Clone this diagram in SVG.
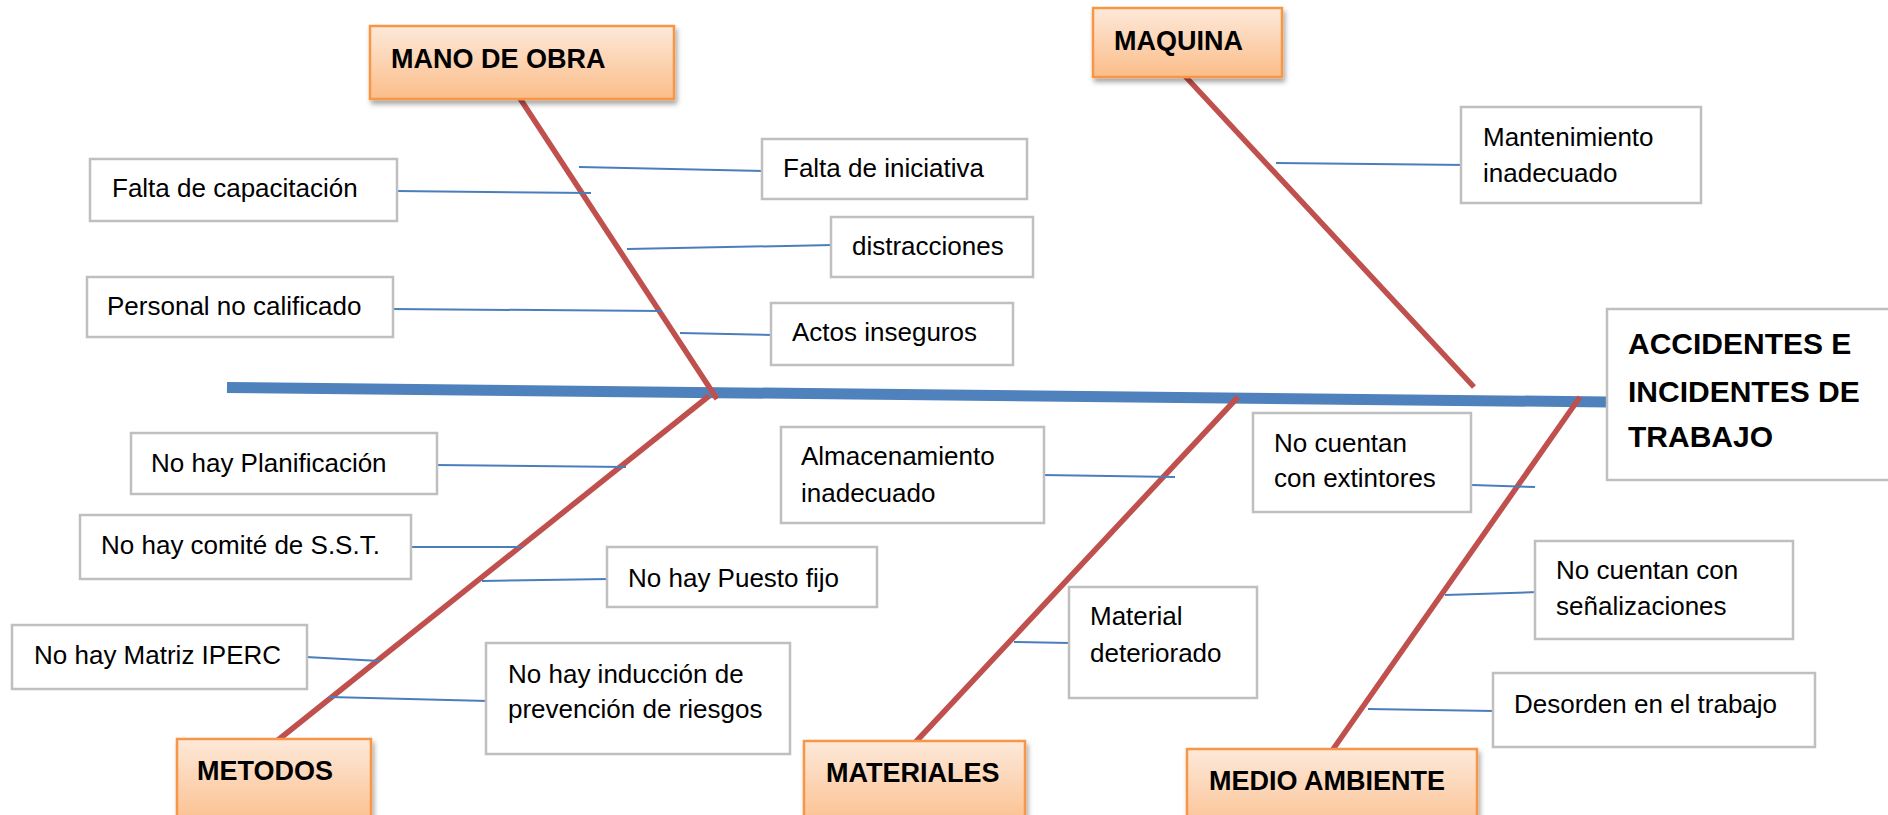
<svg xmlns="http://www.w3.org/2000/svg" width="1888" height="815" viewBox="0 0 1888 815">
<defs>
<linearGradient id="og" x1="0" y1="0" x2="0" y2="1">
<stop offset="0" stop-color="#FDE9DA"/>
<stop offset="1" stop-color="#FBBD89"/>
</linearGradient>
<filter id="sh" x="-10%" y="-10%" width="125%" height="140%">
<feDropShadow dx="2" dy="4" stdDeviation="2.5" flood-color="#000" flood-opacity="0.35"/>
</filter>
<style>
.cat{fill:url(#og);stroke:#F79646;stroke-width:2.5;filter:url(#sh)}
.box{fill:#fff;stroke:#BFBFBF;stroke-width:2.5}
.lbl{font-family:"Liberation Sans",Arial,sans-serif;font-weight:bold;font-size:27px;fill:#000}
.txt{font-family:"Liberation Sans",Arial,sans-serif;font-size:26px;fill:#000}
.eff{font-family:"Liberation Sans",Arial,sans-serif;font-weight:bold;font-size:30px;fill:#000}
.spine{stroke:#4F81BD;stroke-width:11;fill:none}
.bone{stroke:#C0504D;stroke-width:5.5;fill:none}
.sub{stroke:#4A7EBB;stroke-width:2;fill:none}
</style>
</defs>
<rect width="1888" height="815" fill="#fff"/>

<g id="connectors">
<line class="spine" x1="227" y1="387.5" x2="1608" y2="402"/>
<line class="bone" x1="519" y1="97" x2="717" y2="399"/>
<line class="bone" x1="709" y1="396" x2="273" y2="744"/>
<line class="bone" x1="1184" y1="75" x2="1474" y2="387"/>
<line class="bone" x1="1238" y1="397" x2="911" y2="747"/>
<line class="bone" x1="1580" y1="397" x2="1329" y2="755"/>
<line class="sub" x1="579" y1="167" x2="765" y2="171"/>
<line class="sub" x1="396" y1="191" x2="591" y2="193"/>
<line class="sub" x1="627" y1="249" x2="833" y2="245"/>
<line class="sub" x1="391" y1="309" x2="662" y2="311"/>
<line class="sub" x1="680" y1="333" x2="772" y2="335"/>
<line class="sub" x1="1276" y1="163" x2="1467" y2="165"/>
<line class="sub" x1="435" y1="465" x2="626" y2="467"/>
<line class="sub" x1="409" y1="547" x2="521" y2="547"/>
<line class="sub" x1="482" y1="581" x2="610" y2="579"/>
<line class="sub" x1="306" y1="657" x2="380" y2="661"/>
<line class="sub" x1="329" y1="697" x2="488" y2="701"/>
<line class="sub" x1="1043" y1="475" x2="1175" y2="477"/>
<line class="sub" x1="1014" y1="642" x2="1070" y2="643"/>
<line class="sub" x1="1472" y1="485" x2="1535" y2="487"/>
<line class="sub" x1="1445" y1="595" x2="1538" y2="592"/>
<line class="sub" x1="1368" y1="709" x2="1494" y2="711"/>
</g>

<g id="mano-de-obra"><rect class="cat" x="370" y="26" width="304" height="73"/><text class="lbl" x="391" y="68">MANO DE OBRA</text></g>
<g id="maquina"><rect class="cat" x="1093" y="8" width="189" height="69"/><text class="lbl" x="1114" y="50">MAQUINA</text></g>
<g id="metodos"><rect class="cat" x="177" y="739" width="194" height="90"/><text class="lbl" x="197" y="780">METODOS</text></g>
<g id="materiales"><rect class="cat" x="804" y="741" width="221" height="90"/><text class="lbl" x="826" y="782">MATERIALES</text></g>
<g id="medio-ambiente"><rect class="cat" x="1187" y="749" width="290" height="90"/><text class="lbl" x="1209" y="790">MEDIO AMBIENTE</text></g>

<g id="efecto"><rect class="box" x="1607" y="309" width="300" height="171"/>
<text class="eff" x="1628" y="354">ACCIDENTES E</text>
<text class="eff" x="1628" y="402">INCIDENTES DE</text>
<text class="eff" x="1628" y="447">TRABAJO</text></g>

<g id="falta-capacitacion"><rect class="box" x="90" y="159" width="307" height="62"/><text class="txt" x="112" y="197">Falta de capacitación</text></g>
<g id="falta-iniciativa"><rect class="box" x="762" y="139" width="265" height="60"/><text class="txt" x="783" y="177">Falta de iniciativa</text></g>
<g id="distracciones"><rect class="box" x="831" y="217" width="202" height="60"/><text class="txt" x="852" y="255">distracciones</text></g>
<g id="personal"><rect class="box" x="87" y="277" width="306" height="60"/><text class="txt" x="107" y="315">Personal no calificado</text></g>
<g id="actos"><rect class="box" x="771" y="303" width="242" height="62"/><text class="txt" x="792" y="341">Actos inseguros</text></g>
<g id="mantenimiento"><rect class="box" x="1461" y="107" width="240" height="96"/><text class="txt" x="1483" y="146">Mantenimiento</text><text class="txt" x="1483" y="182">inadecuado</text></g>
<g id="planificacion"><rect class="box" x="131" y="433" width="306" height="61"/><text class="txt" x="151" y="472">No hay Planificación</text></g>
<g id="comite"><rect class="box" x="80" y="515" width="331" height="64"/><text class="txt" x="101" y="554">No hay comité de S.S.T.</text></g>
<g id="puesto"><rect class="box" x="607" y="547" width="270" height="60"/><text class="txt" x="628" y="587">No hay Puesto fijo</text></g>
<g id="iperc"><rect class="box" x="12" y="625" width="295" height="64"/><text class="txt" x="34" y="664">No hay Matriz IPERC</text></g>
<g id="induccion"><rect class="box" x="486" y="643" width="304" height="111"/><text class="txt" x="508" y="683">No hay inducción de</text><text class="txt" x="508" y="718">prevención de riesgos</text></g>
<g id="almacenamiento"><rect class="box" x="781" y="427" width="263" height="96"/><text class="txt" x="801" y="465">Almacenamiento</text><text class="txt" x="801" y="502">inadecuado</text></g>
<g id="extintores"><rect class="box" x="1253" y="413" width="218" height="99"/><text class="txt" x="1274" y="452">No cuentan</text><text class="txt" x="1274" y="487">con extintores</text></g>
<g id="material"><rect class="box" x="1069" y="587" width="188" height="111"/><text class="txt" x="1090" y="625">Material</text><text class="txt" x="1090" y="662">deteriorado</text></g>
<g id="senalizaciones"><rect class="box" x="1535" y="541" width="258" height="98"/><text class="txt" x="1556" y="579">No cuentan con</text><text class="txt" x="1556" y="615">señalizaciones</text></g>
<g id="desorden"><rect class="box" x="1493" y="673" width="322" height="74"/><text class="txt" x="1514" y="713">Desorden en el trabajo</text></g>
</svg>
